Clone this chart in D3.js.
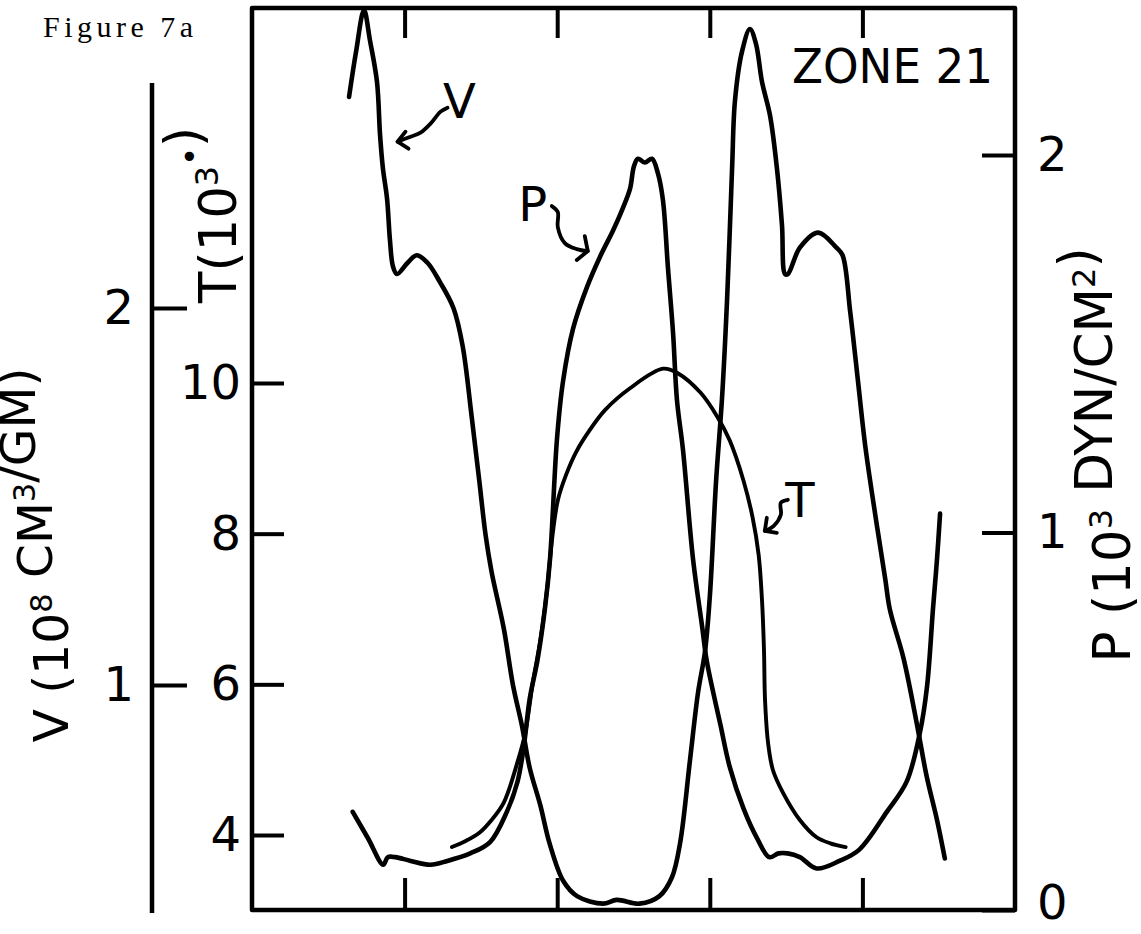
<!DOCTYPE html>
<html>
<head>
<meta charset="utf-8">
<script src="https://cdn.jsdelivr.net/npm/d3@7"></script>
<style>
  body { margin: 0; background: #fff; }
  svg { display: block; background: #fff; }
</style>
</head>
<body>
<div id="chart"></div>
<script>
// unlabelled time ticks (top and bottom frame)
let timeTicks = [1, 2, 3, 4];
let vTicks = [1, 2];
let tTicks = [4, 6, 8, 10];
let pTicks = [0, 1, 2];

// V (10^8 cm^3/gm)
let vTime = [0.636,0.682,0.734,0.773,0.819,0.839,0.858,0.885,0.904,0.924,0.950,1.02,1.08,1.15,1.23,1.32,1.38,1.44,1.49,1.53,
             1.57,1.65,1.71,1.77,1.82,1.89,1.95,2.04,2.13,2.30,2.39,2.54,2.67,2.752,2.805,2.870,2.923,2.969,3.001,3.041,
             3.080,3.113,3.146,3.165,3.211,3.263,3.303,3.342,3.395,3.440,3.473,3.493,3.512,3.59,3.71,3.83,3.87,3.92,3.97,4.02,
             4.10,4.15,4.18,4.27,4.36,4.42,4.49,4.54];
let vValue = [2.56,2.68,2.79,2.71,2.60,2.46,2.37,2.29,2.18,2.11,2.09,2.12,2.14,2.12,2.07,2.00,1.90,1.71,1.54,1.40,
              1.30,1.15,1.00,0.89,0.78,0.68,0.58,0.48,0.44,0.42,0.43,0.42,0.44,0.49,0.58,0.80,0.98,1.09,1.24,1.54,
              1.76,2.02,2.37,2.55,2.68,2.74,2.70,2.60,2.51,2.37,2.22,2.09,2.09,2.16,2.20,2.16,2.14,1.99,1.81,1.63,
              1.41,1.28,1.20,1.07,0.89,0.76,0.64,0.54];

// P (10^3 dyn/cm^2)
let pTime = [0.66,0.76,0.86,0.89,0.94,1.04,1.17,1.28,1.43,1.56,1.67,1.74,1.78,1.82,1.87,1.92,1.953,1.999,2.038,2.104,
             2.195,2.28,2.366,2.431,2.477,2.503,2.529,2.575,2.621,2.661,2.693,2.726,2.759,2.785,2.824,2.89,2.95,2.98,3.07,3.13,
             3.22,3.31,3.39,3.45,3.51,3.59,3.70,3.85,3.98,4.16,4.29,4.377,4.423,4.463,4.489,4.509];
let pValue = [0.26,0.19,0.12,0.14,0.14,0.13,0.12,0.13,0.15,0.18,0.26,0.34,0.43,0.56,0.66,0.80,0.93,1.25,1.40,1.54,
              1.65,1.73,1.80,1.86,1.91,1.97,1.99,1.98,1.99,1.95,1.88,1.70,1.53,1.35,1.22,0.93,0.75,0.66,0.49,0.38,
              0.27,0.19,0.14,0.15,0.15,0.14,0.11,0.13,0.16,0.26,0.34,0.47,0.59,0.80,0.93,1.05];

// T (10^3 deg)
let tTime = [1.31,1.40,1.49,1.57,1.65,1.74,1.79,1.84,1.89,1.933,1.966,2.005,2.058,2.123,2.215,2.313,2.477,2.693,2.79,2.94,
             3.05,3.13,3.22,3.28,3.32,3.342,3.355,3.362,3.382,3.414,3.48,3.59,3.70,3.79,3.89];
let tValue = [3.84,3.92,4.03,4.20,4.43,4.97,5.35,6.02,6.59,7.25,7.92,8.45,8.78,9.08,9.38,9.64,9.93,10.19,10.13,9.87,
              9.55,9.24,8.71,8.22,7.72,7.12,6.46,5.79,5.22,4.86,4.56,4.20,3.97,3.89,3.84];

let width = 1141;
let height = 934;
let plotLeft = 252, plotRight = 1015, plotTop = 8, plotBottom = 910;
let font = "'DejaVu Sans', 'Open Sans', sans-serif";

let svg = d3.select("#chart").append("svg")
    .attr("width", width)
    .attr("height", height);

let x = d3.scaleLinear().domain([0, 5]).range([plotLeft, plotRight]);
let yV = d3.scaleLinear().domain([1, 2]).range([685, 308]);
let yT = d3.scaleLinear().domain([4, 10]).range([835, 383]);
let yP = d3.scaleLinear().domain([0, 2]).range([plotBottom, 155]);

// frame
svg.append("rect")
    .attr("x", plotLeft)
    .attr("y", plotTop)
    .attr("width", plotRight - plotLeft)
    .attr("height", plotBottom - plotTop)
    .attr("fill", "none")
    .attr("stroke", "#000")
    .attr("stroke-width", 4.5)
    .attr("stroke-linejoin", "round");

// separate V axis line
svg.append("line")
    .attr("x1", 152).attr("x2", 152)
    .attr("y1", 83).attr("y2", 913)
    .attr("stroke", "#000")
    .attr("stroke-width", 4.5);

function styleAxis(g) {
    g.select(".domain").remove();
    g.attr("font-family", font).attr("font-size", 48);
    g.selectAll(".tick line").attr("stroke", "#000").attr("stroke-width", 4);
    g.selectAll(".tick text").attr("fill", "#000");
}

svg.append("g")
    .attr("transform", `translate(0,${plotTop})`)
    .call(d3.axisTop(x).tickValues(timeTicks).tickSize(-30).tickFormat(""))
    .call(styleAxis);

svg.append("g")
    .attr("transform", `translate(0,${plotBottom})`)
    .call(d3.axisBottom(x).tickValues(timeTicks).tickSize(-32).tickFormat(""))
    .call(styleAxis);

svg.append("g")
    .attr("transform", "translate(152,0)")
    .call(d3.axisLeft(yV).tickValues(vTicks).tickSize(-35).tickPadding(18).tickFormat(d3.format("d")))
    .call(styleAxis);

svg.append("g")
    .attr("transform", `translate(${plotLeft},0)`)
    .call(d3.axisLeft(yT).tickValues(tTicks).tickSize(-32).tickPadding(11).tickFormat(d3.format("d")))
    .call(styleAxis);

let pAxis = svg.append("g")
    .attr("transform", `translate(${plotRight},0)`)
    .call(d3.axisRight(yP).tickValues(pTicks).tickSize(-33).tickPadding(22).tickFormat(d3.format("d")))
    .call(styleAxis);
// the "0" sits at the very bottom edge of the picture
pAxis.selectAll(".tick text").filter(d => d === 0).attr("dy", "0.18em");

// curves
function drawCurve(times, values, yScale, w) {
    let line = d3.line()
        .x(d => x(d[0]))
        .y(d => yScale(d[1]))
        .curve(d3.curveCatmullRom.alpha(0.5));
    svg.append("path")
        .datum(d3.zip(times, values))
        .attr("d", line)
        .attr("fill", "none")
        .attr("stroke", "#000")
        .attr("stroke-width", w)
        .attr("stroke-linecap", "round")
        .attr("stroke-linejoin", "round");
}
drawCurve(vTime, vValue, yV, 4.6);
drawCurve(pTime, pValue, yP, 4.6);
drawCurve(tTime, tValue, yT, 3.9);

// rotated axis titles
function axisTitle(bx, cy, len, size, parts) {
    let t = svg.append("text")
        .attr("transform", `translate(${bx},${cy}) rotate(-90)`)
        .attr("text-anchor", "middle")
        .attr("font-family", font)
        .attr("font-size", size)
        .attr("textLength", len)
        .attr("lengthAdjust", "spacingAndGlyphs")
        .attr("fill", "#000");
    parts.forEach(p => {
        if (p.sup) {
            t.append("tspan").attr("font-size", size * 0.62).attr("dy", -size * 0.34).text(p.s);
            t.append("tspan").attr("dy", size * 0.34).text("");
        } else {
            t.append("tspan").text(p.s);
        }
    });
}
axisTitle(68, 555, 375, 48, [{s: "V (10"}, {s: "8", sup: true}, {s: " CM"}, {s: "3", sup: true}, {s: "/GM)"}]);
axisTitle(236, 215, 176, 52, [{s: "T(10"}, {s: "3", sup: true}, {s: "•", sup: true}, {s: ")"}]);
axisTitle(1130, 455, 415, 52, [{s: "P (10"}, {s: "3", sup: true}, {s: " DYN/CM"}, {s: "2", sup: true}, {s: ")"}]);

// curve labels with hand-drawn arrows (offsets in px from the label centre)
let labelNames = ["V", "P", "T"];
let labelTime = [1.36, 1.84, 3.59];
let labelValue = [2.55, 1.87, 8.45];
let labelScale = [yV, yP, yT];
let arrowPaths = [
    [[-12, 7], [-19, 11], [-29, 23], [-39, 32], [-49, 36], [-62, 41]],
    [[19, 2], [25, 8], [25, 23], [32, 39], [44, 45], [55, 47]],
    [[-12, 0], [-19, 3], [-19, 15], [-26, 26], [-35, 31]]
];
let arrowBarbs = [
    [[8, -10], [11, 7]],
    [[-3, -15], [-11, 9]],
    [[2, -13], [12, 2]]
];
let arrowLine = d3.line().curve(d3.curveCatmullRom.alpha(0.5));

labelNames.forEach((name, i) => {
    let cx = x(labelTime[i]);
    let cy = labelScale[i](labelValue[i]);
    let g = svg.append("g").attr("transform", `translate(${cx},${cy})`);
    g.append("text")
        .attr("text-anchor", "middle")
        .attr("dy", "0.36em")
        .attr("font-family", font)
        .attr("font-size", 48)
        .attr("fill", "#000")
        .text(name);
    let pts = arrowPaths[i];
    let tip = pts[pts.length - 1];
    g.append("path")
        .attr("d", arrowLine(pts))
        .attr("fill", "none")
        .attr("stroke", "#000")
        .attr("stroke-width", 3.8)
        .attr("stroke-linecap", "round");
    g.append("path")
        .attr("d", d3.line()([[tip[0] + arrowBarbs[i][0][0], tip[1] + arrowBarbs[i][0][1]], tip,
                               [tip[0] + arrowBarbs[i][1][0], tip[1] + arrowBarbs[i][1][1]]]))
        .attr("fill", "none")
        .attr("stroke", "#000")
        .attr("stroke-width", 3.8)
        .attr("stroke-linecap", "round")
        .attr("stroke-linejoin", "round");
});

// zone title and figure caption
svg.append("text")
    .attr("x", 792)
    .attr("y", 83)
    .attr("font-family", font)
    .attr("font-size", 48)
    .attr("textLength", 201)
    .attr("lengthAdjust", "spacingAndGlyphs")
    .attr("fill", "#000")
    .text("ZONE 21");

svg.append("text")
    .attr("x", 43)
    .attr("y", 37)
    .attr("font-family", "'Liberation Serif', 'DejaVu Serif', serif")
    .attr("font-size", 30)
    .attr("letter-spacing", 4.5)
    .attr("fill", "#000")
    .text("Figure 7a");
</script>
</body>
</html>
